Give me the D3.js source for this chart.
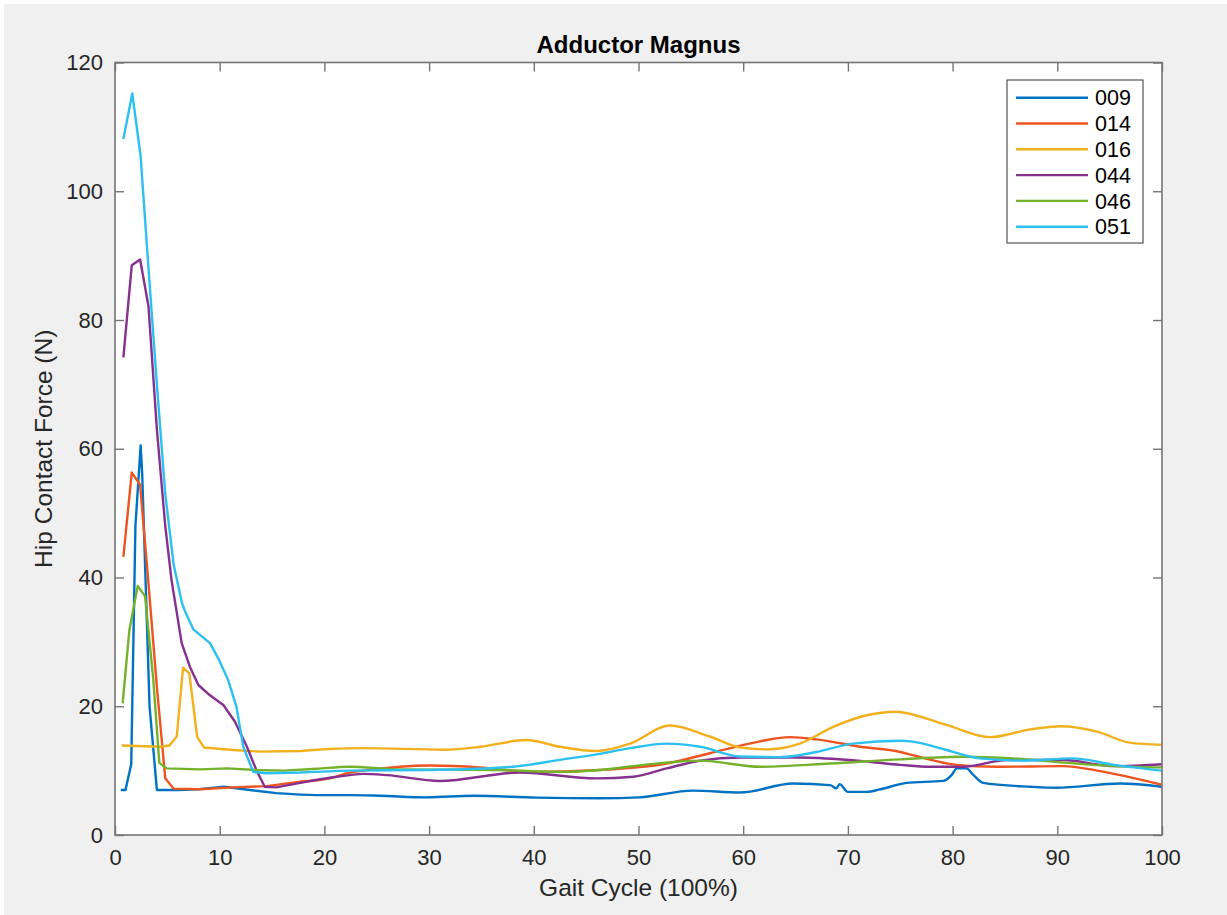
<!DOCTYPE html>
<html>
<head>
<meta charset="utf-8">
<script src="https://cdn.jsdelivr.net/npm/d3@7"></script>
<style>
  html, body { margin: 0; padding: 0; background: #fff; }
  svg { display: block; font-family: "Liberation Sans", Arial, Helvetica, sans-serif; }
</style>
</head>
<body>
<div id="chart"></div>
<script>
// series values as [gait %, force N]
const s009 = [[0.55,7],[1.0,7],[1.55,11],[1.95,48],[2.45,60.5],[2.6,56],[3.3,20],[4.0,7],[6,7],[8,7.1],[10.4,7.5],[12.9,7.0],[15.4,6.5],[19.3,6.2],[22.4,6.2],[25.3,6.1],[29.8,5.85],[34.2,6.1],[40.3,5.8],[46.3,5.7],[50.1,5.85],[55.2,6.9],[59.7,6.6],[64.8,8.0],[68.3,7.75],[68.9,7.25],[69.2,7.9],[70.0,6.7],[71.8,6.7],[73.1,7.1],[75.6,8.1],[79.1,8.4],[79.9,9.3],[80.4,10.35],[81.3,10.35],[82.0,9.3],[82.9,8.1],[87.4,7.5],[89.9,7.35],[96.0,8.0],[100,7.5]];
const s014 = [[0.8,43.2],[1.6,56.3],[2.4,54.4],[3.2,39],[4.0,23],[4.8,8.8],[5.6,7.2],[8.1,7.1],[11.3,7.4],[14.5,7.6],[17.7,8.3],[20.5,8.8],[22.4,9.7],[23.7,10.0],[30.1,10.8],[34.9,10.5],[39.6,9.8],[46.3,10.1],[52.7,11.1],[56.8,12.7],[60.6,14.2],[64.5,15.2],[67.0,14.85],[71.2,13.7],[75,12.9],[76.2,12.4],[80.4,10.9],[84.2,10.6],[90.6,10.7],[93.8,10.0],[100,7.8]];
const s016 = [[0.65,13.9],[4.3,13.7],[5.2,13.9],[5.9,15.3],[6.5,26.0],[7.1,25.1],[7.85,15.2],[8.5,13.6],[11.3,13.2],[13.85,12.95],[17.7,13.05],[20.5,13.36],[23.7,13.5],[31.4,13.25],[34.9,13.7],[39.3,14.75],[42.5,13.7],[46.0,13.05],[49.2,14.2],[53.0,17.0],[56.8,15.3],[59.7,13.6],[62.2,13.3],[65.4,14.2],[68.6,16.8],[71.8,18.6],[74.5,19.15],[79.4,17.1],[83.6,15.2],[87.4,16.4],[90.3,16.9],[93.8,16.05],[96.9,14.35],[100,14.0]];
const s044 = [[0.8,74.2],[1.6,88.5],[2.4,89.4],[3.2,82.1],[4.0,63],[4.8,48],[5.4,39.6],[6.37,29.8],[7.16,26.1],[7.96,23.3],[9.07,21.7],[10.35,20.2],[11.46,17.6],[12.6,13.7],[13.5,10.1],[14.3,7.5],[15.4,7.4],[17.7,8.1],[20.5,8.9],[22.4,9.3],[23.7,9.5],[26,9.3],[31.0,8.4],[38.7,9.7],[46,8.8],[49.5,9.05],[52.7,10.35],[55.9,11.55],[59.7,12.05],[65.4,12.05],[70.2,11.65],[75,10.9],[77.8,10.6],[81,10.6],[85.2,11.65],[90.6,11.65],[95.4,10.7],[100,11.0]];
const s046 = [[0.73,20.45],[1.37,31.8],[2.17,38.7],[2.87,37.1],[3.66,24.1],[4.23,11.2],[4.94,10.35],[8.1,10.2],[10.7,10.35],[13.5,10.1],[16.1,10.0],[19.3,10.3],[22.4,10.6],[26.9,10.2],[36.5,10.1],[42.8,9.8],[46.3,10.1],[50.5,10.9],[55.9,11.55],[61.6,10.6],[68.3,11.1],[75,11.75],[81,12.15],[85.8,11.9],[90.6,11.25],[95.4,10.7],[100,10.5]];
const s051 = [[0.8,108.1],[1.65,115.2],[2.45,105.4],[3.2,88],[4.0,70],[4.8,53],[5.6,42],[6.4,36],[6.7,34.7],[7.48,31.95],[9.07,29.8],[9.87,27.4],[10.8,24.1],[11.6,19.9],[12.25,13.7],[13.2,9.8],[14.5,9.6],[17.7,9.7],[22.4,10.0],[30,10.1],[38,10.6],[42.8,11.75],[46.3,12.6],[49.2,13.5],[52.7,14.2],[55.9,13.7],[59.7,12.2],[63.5,12.1],[67,12.9],[70.5,14.2],[75,14.65],[76.2,14.5],[79.4,13.2],[82.6,11.9],[86.7,11.55],[91.5,11.9],[95.4,10.9],[100,10.0]];

const seriesNames = ["009", "014", "016", "044", "046", "051"];
const seriesValues = [s009, s014, s016, s044, s046, s051];
const colors = ["#0072c4", "#ee5420", "#f2b01c", "#86308f", "#74b22c", "#2cc0f0"];
const xTicks = d3.range(0, 101, 10);
const yTicks = d3.range(0, 121, 20);

const width = 1227, height = 915;
const margin = { left: 115, right: 65, top: 62.5, bottom: 80 };
const axisColor = "#757575", textColor = "#262626";
const splitAt = 15; // spiky start is drawn straight, the rest smoothed

const svg = d3.select("#chart").append("svg")
  .attr("width", width)
  .attr("height", height);

// figure background (white strip at top and left like the screenshot)
svg.append("rect").attr("x", 4).attr("y", 4)
  .attr("width", width - 4).attr("height", height - 4)
  .attr("fill", "#f0f0f0");

const x = d3.scaleLinear().domain([0, 100]).range([margin.left, width - margin.right]);
const y = d3.scaleLinear().domain([0, 120]).range([height - margin.bottom, margin.top]);

svg.append("rect")
  .attr("x", x(0)).attr("y", y(120))
  .attr("width", x(100) - x(0)).attr("height", y(0) - y(120))
  .attr("fill", "#fff");

const plot = svg.append("g");
const straight = d3.line()
  .x((d) => x(d[0]))
  .y((d) => y(d[1]));
const smooth = d3.line()
  .x((d) => x(d[0]))
  .y((d) => y(d[1]))
  .curve(d3.curveMonotoneX);

seriesValues.forEach((s, i) => {
  const k = s.findIndex((d) => d[0] >= splitAt);
  const head = s.slice(0, k + 1);
  const tail = s.slice(k);
  plot.append("path")
    .attr("d", straight(head) + smooth(tail).replace(/^M/, "L"))
    .attr("fill", "none")
    .attr("stroke", colors[i])
    .attr("stroke-width", 2.4)
    .attr("stroke-linejoin", "round");
});

// axes: inward ticks, mirrored on top/right
const tickLen = 9;
function styleAxis(g) {
  g.selectAll(".domain").remove();
  g.selectAll(".tick line").attr("stroke", axisColor).attr("stroke-width", 1.4);
  g.selectAll(".tick text").attr("fill", textColor).attr("font-size", 22);
}
svg.append("g")
  .attr("transform", `translate(0,${y(0)})`)
  .call(d3.axisBottom(x).tickValues(xTicks).tickSize(-tickLen).tickPadding(14))
  .call(styleAxis);
svg.append("g")
  .attr("transform", `translate(0,${y(120)})`)
  .call(d3.axisTop(x).tickValues(xTicks).tickSize(-tickLen).tickFormat(""))
  .call(styleAxis);
svg.append("g")
  .attr("transform", `translate(${x(0)},0)`)
  .call(d3.axisLeft(y).tickValues(yTicks).tickSize(-tickLen).tickPadding(12))
  .call(styleAxis);
svg.append("g")
  .attr("transform", `translate(${x(100)},0)`)
  .call(d3.axisRight(y).tickValues(yTicks).tickSize(-tickLen).tickFormat(""))
  .call(styleAxis);

svg.append("rect")
  .attr("x", x(0)).attr("y", y(120))
  .attr("width", x(100) - x(0)).attr("height", y(0) - y(120))
  .attr("fill", "none")
  .attr("stroke", axisColor)
  .attr("stroke-width", 1.6);

// labels
svg.append("text")
  .attr("x", (x(0) + x(100)) / 2).attr("y", 53)
  .attr("text-anchor", "middle")
  .attr("font-size", 24).attr("font-weight", "bold")
  .attr("fill", "#000")
  .text("Adductor Magnus");
svg.append("text")
  .attr("x", (x(0) + x(100)) / 2).attr("y", 896)
  .attr("text-anchor", "middle")
  .attr("font-size", 24.5)
  .attr("fill", textColor)
  .text("Gait Cycle (100%)");
svg.append("text")
  .attr("transform", `translate(52,${(y(0) + y(120)) / 2}) rotate(-90)`)
  .attr("text-anchor", "middle")
  .attr("font-size", 24.5)
  .attr("fill", textColor)
  .text("Hip Contact Force (N)");

// legend
const legend = svg.append("g").attr("transform", "translate(1007,80)");
legend.append("rect")
  .attr("width", 136).attr("height", 163)
  .attr("fill", "#fff")
  .attr("stroke", "#333")
  .attr("stroke-width", 1);
seriesNames.forEach((name, i) => {
  const cy = 17.7 + i * 25.8;
  legend.append("line")
    .attr("x1", 9).attr("x2", 81)
    .attr("y1", cy).attr("y2", cy)
    .attr("stroke", colors[i])
    .attr("stroke-width", 2.4);
  legend.append("text")
    .attr("x", 88).attr("y", cy)
    .attr("dy", "0.36em")
    .attr("font-size", 21.5)
    .attr("fill", "#000")
    .text(name);
});
</script>
</body>
</html>
